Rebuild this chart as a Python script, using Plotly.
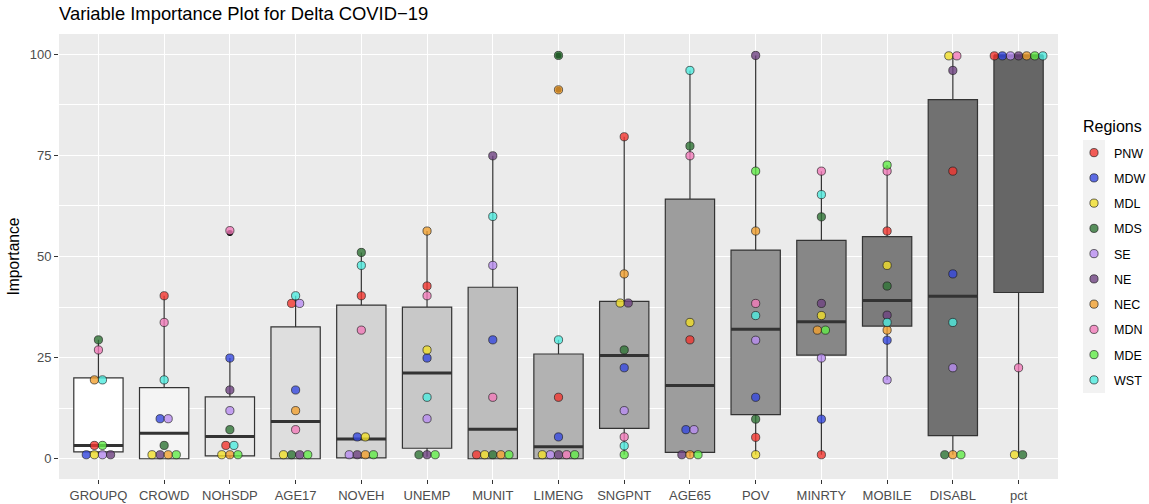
import plotly.graph_objects as go

# ---------------- data ----------------
categories = ["GROUPQ", "CROWD", "NOHSDP", "AGE17", "NOVEH", "UNEMP", "MUNIT",
              "LIMENG", "SNGPNT", "AGE65", "POV", "MINRTY", "MOBILE", "DISABL", "pct"]

regions = ["PNW", "MDW", "MDL", "MDS", "SE", "NE", "NEC", "MDN", "MDE", "WST"]

# importance values per region, in category order
PNW = [3.3, 40.3, 3.3, 38.4, 40.3, 42.7, 1.0, 15.2, 79.6, 29.4, 5.3, 1.0, 56.3, 71.1, 99.6]
MDW = [1.0, 9.9, 24.9, 17.0, 5.4, 24.9, 29.4, 5.4, 22.5, 7.2, 15.2, 9.8, 29.3, 45.7, 99.6]
MDL = [1.0, 1.0, 1.0, 1.0, 5.4, 26.9, 1.0, 1.0, 38.5, 33.7, 1.0, 35.4, 47.8, 99.6, 1.0]
MDS = [29.4, 3.3, 7.2, 1.0, 51.0, 1.0, 1.0, 99.7, 26.9, 77.3, 9.8, 59.8, 42.7, 1.0, 1.0]
SE = [1.0, 9.9, 11.9, 38.4, 1.0, 9.9, 47.8, 1.0, 11.9, 7.2, 29.3, 24.9, 19.5, 22.5, 99.6]
NE = [1.0, 1.0, 17.0, 1.0, 1.0, 1.0, 74.9, 1.0, 38.5, 1.0, 99.7, 38.4, 35.5, 96.0, 99.6]
NEC = [19.5, 1.0, 1.0, 11.9, 1.0, 56.3, 1.0, 91.2, 45.7, 1.0, 56.3, 31.8, 31.8, 1.0, 99.6]
MDN = [26.9, 33.7, 56.4, 7.2, 31.8, 40.3, 15.2, 1.0, 5.4, 74.9, 38.4, 71.1, 71.1, 99.6, 22.5]
MDE = [3.3, 1.0, 1.0, 1.0, 1.0, 1.0, 1.0, 1.0, 1.0, 1.0, 71.1, 31.8, 72.6, 1.0, 99.6]
WST = [19.5, 19.5, 3.3, 40.3, 47.8, 15.2, 59.9, 29.4, 3.2, 96.0, 35.4, 65.3, 33.7, 33.7, 99.6]

# box statistics
box_q1 = [1.7, 0.0, 0.7, 0.0, 0.2, 2.6, 0.0, 0.0, 7.5, 1.6, 10.9, 25.6, 32.8, 5.7, 41.1]
box_median = [3.3, 6.3, 5.5, 9.2, 4.9, 21.2, 7.3, 3.0, 25.5, 18.1, 32.0, 33.9, 39.1, 40.2, 99.6]
box_q3 = [20.0, 17.6, 15.3, 32.6, 38.0, 37.5, 42.4, 25.9, 38.9, 64.2, 51.6, 54.0, 54.9, 88.8, 99.6]
box_low = [1.0, 0.0, 0.2, 0.0, 0.0, 0.5, 0.0, 0.0, 1.0, 0.5, 1.0, 1.0, 19.5, 1.0, 1.0]
box_high = [29.4, 40.3, 24.9, 40.3, 51.0, 56.3, 74.9, 29.4, 79.6, 96.0, 99.7, 71.1, 72.6, 99.6, 99.6]

# boxplot outliers (black points)
outlier_cat = ["NOHSDP", "LIMENG", "LIMENG"]
outlier_val = [55.8, 99.7, 91.2]

series = {"PNW": PNW, "MDW": MDW, "MDL": MDL, "MDS": MDS, "SE": SE,
          "NE": NE, "NEC": NEC, "MDN": MDN, "MDE": MDE, "WST": WST}

# ---------------- styles ----------------
region_colors = {
    "PNW": "rgba(241,54,48,0.8)", "MDW": "rgba(54,72,222,0.8)",
    "MDL": "rgba(241,222,41,0.8)", "MDS": "rgba(48,116,54,0.8)",
    "SE": "rgba(185,141,241,0.8)", "NE": "rgba(110,66,129,0.8)",
    "NEC": "rgba(241,160,48,0.8)", "MDN": "rgba(241,123,185,0.8)",
    "MDE": "rgba(97,235,72,0.8)", "WST": "rgba(79,235,222,0.8)",
}
n_cat = len(categories)
box_fills = []
for i in range(n_cat):
    g = round(255 - (255 - 102) * i / (n_cat - 1))
    box_fills.append(f"rgb({g},{g},{g})")

W, H = 1149, 504
ML, MR, MT, MB = 59, 91, 34, 25
PW, PH = W - ML - MR, H - MT - MB
x_lo, x_hi = -0.6, n_cat - 1 + 0.6
px_per_unit = PW / (x_hi - x_lo)
dot_px = 8.1
dot_dx = dot_px / px_per_unit
box_w = 0.75
binwidth = 1.0

# ---------------- dot plot positions (ggplot dotdensity, stackdir centre) ----------------
dot_x = {r: [None] * n_cat for r in regions}
dot_y = {r: [None] * n_cat for r in regions}
for ci in range(n_cat):
    items = sorted([(series[r][ci], ri, r) for ri, r in enumerate(regions)])
    bins = []
    binend = -1e9
    for v, ri, r in items:
        if v >= binend:
            bins.append([])
            binend = v + binwidth
        bins[-1].append((v, ri, r))
    for b in bins:
        center = (min(t[0] for t in b) + max(t[0] for t in b)) / 2
        b_sorted = sorted(b, key=lambda t: t[1])
        n = len(b_sorted)
        for k, (v, ri, r) in enumerate(b_sorted):
            dot_x[r][ci] = ci + (k - (n - 1) / 2) * dot_dx
            dot_y[r][ci] = center

fig = go.Figure()

# boxes
for i, c in enumerate(categories):
    fig.add_trace(go.Box(
        x=[i], q1=[box_q1[i]], median=[box_median[i]], q3=[box_q3[i]],
        lowerfence=[box_low[i]], upperfence=[box_high[i]],
        width=box_w, whiskerwidth=0, fillcolor=box_fills[i],
        line=dict(color="#333333", width=1.2), boxpoints=False,
        showlegend=False, hoverinfo="skip"))

# thick median lines
mx, my = [], []
for i in range(n_cat):
    mx += [i - box_w / 2, i + box_w / 2, None]
    my += [box_median[i], box_median[i], None]
fig.add_trace(go.Scatter(x=mx, y=my, mode="lines", line=dict(color="#333333", width=3),
                         showlegend=False, hoverinfo="skip"))

# outliers
fig.add_trace(go.Scatter(
    x=[categories.index(c) for c in outlier_cat], y=outlier_val, mode="markers",
    marker=dict(color="black", size=6), showlegend=False, hoverinfo="skip"))

# region dots
for r in regions:
    fig.add_trace(go.Scatter(
        x=dot_x[r], y=dot_y[r], mode="markers", name=r, legendgroup=r,
        marker=dict(color=region_colors[r], size=8.2,
                    line=dict(color="rgba(25,25,25,0.8)", width=0.8))))

font_family = "Liberation Sans, Arial, Helvetica, sans-serif"


def px_x(p):
    return (p - ML) / PW


def px_y(p):
    return (H - MB - p) / PH


fig.update_layout(
    width=W, height=H,
    margin=dict(l=ML, r=MR, t=MT, b=MB, autoexpand=False),
    paper_bgcolor="white", plot_bgcolor="#EBEBEB",
    font=dict(family=font_family, color="#000000"),
    boxmode="overlay",
    title=dict(text="Variable Importance Plot for Delta COVID\u221219",
               x=0, xref="paper", xanchor="left",
               y=1 - 14 / H, yref="container", yanchor="middle",
               font=dict(size=18.4, color="black")),
    xaxis=dict(range=[x_lo, x_hi], tickmode="array", tickvals=list(range(n_cat)),
               ticktext=categories, showgrid=True, gridcolor="white", gridwidth=1.1,
               zeroline=False, ticks="outside", ticklen=4, tickcolor="#333333",
               tickwidth=1, tickfont=dict(size=13, color="#4D4D4D")),
    yaxis=dict(range=[-5, 105], tickmode="array", tickvals=[0, 25, 50, 75, 100],
               showgrid=True, gridcolor="white", gridwidth=1.1, zeroline=False,
               ticks="outside", ticklen=4, tickcolor="#333333", tickwidth=1,
               tickfont=dict(size=13, color="#4D4D4D"),
               minor=dict(tickmode="array", tickvals=[12.5, 37.5, 62.5, 87.5],
                          showgrid=True, gridcolor="white", gridwidth=0.55, ticks=""),
               title=dict(text="Importance", font=dict(size=15.6, color="black"),
                          standoff=6)),
    legend=dict(x=px_x(1074), xanchor="left",
                y=px_y(138), yanchor="top",
                bgcolor="rgba(0,0,0,0)", tracegroupgap=6,
                font=dict(size=12.5, color="black")),
    annotations=[dict(text="Regions", xref="paper", yref="paper",
                      x=px_x(1081), y=px_y(126), xanchor="left", yanchor="middle",
                      showarrow=False, font=dict(size=16, color="black"))],
    shapes=[dict(type="rect", xref="paper", yref="paper",
                 x0=px_x(1083), x1=px_x(1105),
                 y0=px_y(393), y1=px_y(140),
                 fillcolor="#F2F2F2", line=dict(width=0), layer="below")],
)

fig.write_html("out.html")
